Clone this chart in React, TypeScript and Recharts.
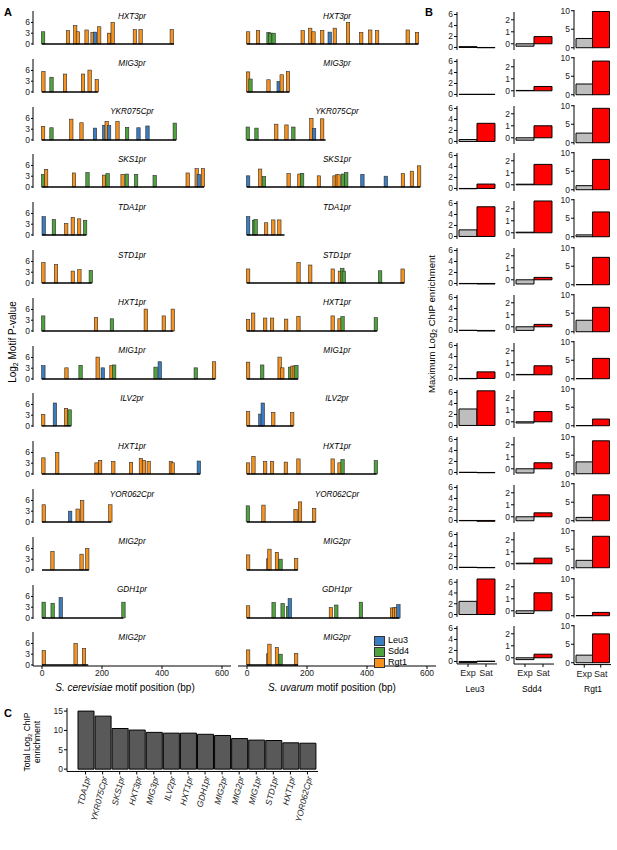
import React from 'react';
import { BarChart, Bar, XAxis, YAxis, Cell, ReferenceLine } from 'recharts';

const FONT = '"Liberation Sans", Arial, Helvetica, sans-serif';

// ---------- DATA ----------
const tfKeys = ['L', 'S', 'R'];
const tfNames = ['Leu3', 'Sdd4', 'Rgt1'];
const tfColors: Record<string, string> = { L: '#3A7DC1', S: '#4EA33F', R: '#F7921E' };

const promoterNames = [
  'HXT3pr', 'MIG3pr', 'YKR075Cpr', 'SKS1pr', 'TDA1pr', 'STD1pr', 'HXT1pr',
  'MIG1pr', 'ILV2pr', 'HXT1pr', 'YOR062Cpr', 'MIG2pr', 'GDH1pr', 'MIG2pr',
];

const cerLengths = [440, 186, 447, 540, 147, 166, 438, 577, 96, 527, 230, 156, 271, 154];
const uvaLengths = [571, 141, 262, 577, 125, 524, 433, 170, 154, 432, 228, 169, 508, 170];

type Motif = [number, number, string];

const cerMotifs: Motif[][] = [
  [[4, 3.4, 'S'], [87, 3.7, 'R'], [111, 5.1, 'R'], [120, 3.4, 'R'], [149, 3.9, 'R'], [169, 3.2, 'R'], [177, 3.3, 'L'], [191, 4.8, 'R'], [224, 3.0, 'R'], [236, 6.0, 'R'], [310, 4.0, 'R'], [329, 4.0, 'R'], [433, 4.0, 'R']],
  [[4, 5.7, 'R'], [31, 4.1, 'S'], [76, 5.0, 'R'], [136, 5.0, 'R'], [158, 6.1, 'R'], [182, 3.5, 'R']],
  [[4, 3.8, 'R'], [32, 3.4, 'S'], [98, 5.8, 'R'], [132, 4.8, 'R'], [177, 3.3, 'L'], [208, 4.1, 'L'], [216, 5.2, 'R'], [224, 4.0, 'L'], [252, 5.1, 'R'], [284, 3.5, 'S'], [322, 3.4, 'L'], [352, 3.9, 'L'], [443, 4.7, 'S']],
  [[4, 3.5, 'S'], [14, 4.9, 'R'], [107, 3.9, 'R'], [152, 4.0, 'S'], [207, 3.3, 'R'], [219, 3.7, 'S'], [269, 3.5, 'R'], [283, 3.6, 'S'], [314, 3.5, 'S'], [376, 3.2, 'S'], [486, 3.9, 'R'], [516, 5.1, 'R'], [523, 3.5, 'L'], [537, 5.1, 'R']],
  [[4, 5.1, 'L'], [38, 4.3, 'S'], [79, 3.2, 'R'], [101, 4.9, 'R'], [122, 4.5, 'R'], [142, 4.1, 'S']],
  [[4, 5.7, 'R'], [46, 5.1, 'R'], [102, 3.3, 'R'], [124, 3.7, 'R'], [162, 3.5, 'S']],
  [[4, 4.2, 'S'], [180, 3.7, 'R'], [233, 3.4, 'S'], [346, 6.1, 'R'], [406, 4.2, 'R'], [436, 6.1, 'R']],
  [[5, 3.7, 'L'], [82, 3.1, 'R'], [129, 3.8, 'S'], [186, 6.1, 'R'], [203, 3.1, 'L'], [232, 3.7, 'R'], [241, 3.9, 'S'], [379, 3.3, 'S'], [393, 4.8, 'L'], [513, 3.1, 'S'], [574, 4.8, 'R']],
  [[5, 3.2, 'R'], [44, 6.4, 'L'], [81, 4.9, 'R'], [93, 4.5, 'S']],
  [[5, 4.5, 'R'], [51, 6.0, 'R'], [182, 3.1, 'R'], [194, 3.8, 'R'], [238, 3.5, 'R'], [297, 3.2, 'R'], [330, 4.3, 'R'], [340, 3.8, 'R'], [356, 3.5, 'R'], [430, 3.5, 'R'], [436, 3.1, 'R'], [523, 3.6, 'L']],
  [[5, 4.8, 'R'], [93, 3.0, 'L'], [118, 3.6, 'R'], [133, 6.0, 'R'], [227, 4.8, 'R']],
  [[36, 5.2, 'R'], [133, 4.4, 'R'], [152, 6.0, 'R']],
  [[4, 4.4, 'S'], [34, 4.1, 'S'], [61, 5.7, 'L'], [270, 4.4, 'S']],
  [[5, 4.0, 'R'], [111, 6.0, 'R'], [139, 4.6, 'R']],
];

const uvaMotifs: Motif[][] = [
  [[4, 3.4, 'R'], [37, 3.7, 'R'], [72, 3.2, 'S'], [78, 3.0, 'S'], [89, 3.0, 'S'], [186, 3.7, 'R'], [211, 4.4, 'R'], [222, 3.4, 'R'], [251, 3.8, 'R'], [276, 3.3, 'L'], [293, 4.4, 'R'], [337, 6.0, 'R'], [381, 3.2, 'R'], [411, 3.9, 'R'], [434, 3.7, 'R'], [536, 3.9, 'R'], [567, 3.2, 'R']],
  [[4, 5.6, 'R'], [12, 3.6, 'S'], [72, 3.4, 'R'], [106, 2.9, 'L'], [116, 4.8, 'R'], [137, 5.7, 'R']],
  [[3, 3.6, 'S'], [32, 3.3, 'S'], [98, 4.4, 'R'], [132, 4.2, 'R'], [155, 3.6, 'S'], [215, 6.0, 'R'], [224, 3.2, 'L'], [251, 5.9, 'R']],
  [[4, 3.1, 'L'], [44, 5.0, 'R'], [57, 2.9, 'S'], [139, 3.7, 'R'], [175, 3.6, 'R'], [184, 3.8, 'S'], [240, 3.1, 'R'], [292, 3.1, 'R'], [300, 3.4, 'R'], [306, 3.4, 'R'], [320, 3.6, 'S'], [331, 4.0, 'S'], [385, 3.5, 'L'], [463, 3.0, 'L'], [520, 3.7, 'R'], [550, 4.4, 'R'], [574, 5.9, 'R']],
  [[4, 5.1, 'L'], [24, 4.1, 'S'], [29, 4.3, 'S'], [64, 3.4, 'R'], [88, 4.2, 'R'], [108, 4.2, 'R']],
  [[4, 3.9, 'R'], [172, 5.7, 'R'], [211, 5.0, 'R'], [286, 3.9, 'R'], [310, 3.3, 'R'], [318, 4.1, 'S'], [323, 3.3, 'S'], [444, 3.4, 'S'], [519, 3.9, 'R']],
  [[4, 3.2, 'R'], [21, 5.0, 'R'], [61, 3.6, 'R'], [84, 3.6, 'R'], [131, 3.3, 'R'], [172, 4.1, 'R'], [286, 4.2, 'R'], [309, 3.4, 'R'], [319, 4.0, 'S'], [430, 3.7, 'S']],
  [[4, 4.7, 'R'], [51, 3.9, 'S'], [109, 6.1, 'R'], [118, 3.1, 'R'], [144, 3.3, 'S'], [152, 3.6, 'R'], [159, 3.6, 'R'], [165, 3.8, 'S']],
  [[4, 4.0, 'R'], [45, 3.3, 'L'], [53, 6.4, 'L'], [88, 3.8, 'R'], [151, 3.7, 'R']],
  [[4, 3.1, 'R'], [22, 4.9, 'R'], [61, 3.5, 'R'], [84, 3.5, 'R'], [130, 3.3, 'R'], [172, 4.2, 'R'], [286, 4.2, 'R'], [309, 3.1, 'R'], [319, 4.0, 'S'], [430, 3.7, 'S']],
  [[2, 4.5, 'S'], [54, 4.7, 'R'], [161, 3.5, 'R'], [176, 5.6, 'R'], [223, 3.8, 'R']],
  [[4, 4.2, 'R'], [71, 3.1, 'R'], [75, 5.8, 'R'], [100, 4.9, 'R'], [112, 3.0, 'S'], [164, 3.2, 'R']],
  [[4, 3.4, 'R'], [89, 4.3, 'S'], [119, 4.0, 'S'], [137, 3.2, 'S'], [143, 5.4, 'L'], [280, 2.9, 'R'], [298, 3.6, 'S'], [380, 4.4, 'S'], [484, 2.8, 'R'], [491, 2.8, 'R'], [497, 2.9, 'R'], [505, 3.7, 'L']],
  [[4, 4.2, 'R'], [71, 3.1, 'R'], [75, 5.8, 'R'], [100, 4.9, 'R'], [112, 3.0, 'S'], [164, 3.2, 'R']],
];

const motifTicksY = [0, 3, 6];
const motifTicksX = [0, 200, 400, 600];

const conditions = ['Exp', 'Sat'];
const leu3Exp = [0.15, 0.03, 0.35, -0.05, 1.2, -0.05, 0.03, -0.05, 3.0, 0.03, -0.05, 0.03, 2.45, -0.2];
const leu3Sat = [-0.05, 0.03, 3.3, 0.8, 5.4, -0.1, -0.1, 1.2, 6.3, -0.05, -0.15, -0.05, 6.6, 0.05];
const sdd4Exp = [-0.2, 0.03, -0.2, 0.05, 0.05, -0.35, -0.3, 0.03, -0.1, -0.35, -0.33, 0.05, -0.22, -0.15];
const sdd4Sat = [0.6, 0.36, 1.0, 1.7, 2.65, 0.2, 0.2, 0.75, 0.85, 0.5, 0.33, 0.47, 1.5, 0.3];
const rgt1Exp = [2.5, 2.9, 2.6, 1.1, 0.5, 0.05, 3.1, 0.05, 0.05, 3.2, 0.9, 2.0, 0.05, 2.05];
const rgt1Sat = [9.8, 9.1, 9.3, 8.2, 6.7, 7.4, 6.6, 5.5, 1.8, 8.9, 7.0, 8.5, 0.9, 7.8];
const leu3Ticks = [0, 2, 4, 6];
const sdd4Ticks = [0, 1, 2];
const rgt1Ticks = [0, 5, 10];

const totalLabels = ['TDA1pr', 'YKR075Cpr', 'SKS1pr', 'HXT3pr', 'MIG3pr', 'ILV2pr', 'HXT1pr', 'GDH1pr', 'MIG2pr', 'MIG2pr', 'MIG1pr', 'STD1pr', 'HXT1pr', 'YOR062Cpr'];
const totalValues = [15.0, 13.7, 10.5, 10.1, 9.5, 9.3, 9.3, 9.0, 8.7, 7.9, 7.5, 7.4, 6.8, 6.7];
const totalTicks = [0, 5, 10, 15];

// ---------- LAYOUT ----------
const A_BASE0 = 44;
const A_STEP = 47.8;
const A_YDOM: [number, number] = [-0.3, 9.2];
const A_PLOT_H = 34;
const A_M = 6;
const B_BASE0 = 47;
const B_STEP = 47.3;
const B_M = 6;

const tickStyle = { fontSize: 8.5, fill: '#222', fontFamily: FONT };
const axisLine = { stroke: '#000', strokeWidth: 1 };

// Motif bar: keep the library's bar centre, draw it with a constant thin width.
function MotifBar(props: any) {
  const { x, width, y, height, payload } = props;
  if (height == null || !isFinite(height)) return null;
  const cx = x + width / 2;
  const w = 3.4;
  return <rect x={cx - w / 2} y={y} width={w} height={height} fill={tfColors[payload.tf]} stroke="#2a2a2a" strokeWidth={0.6} />;
}

function MotifPanel({ motifs, len, side, row }: { motifs: Motif[]; len: number; side: 'left' | 'right'; row: number }) {
  const base = A_BASE0 + row * A_STEP;
  const isLeft = side === 'left';
  const showX = row === promoterNames.length - 1;
  const data = motifs.map(([pos, val, tf]) => ({ pos, val, tf }));
  const zeroFromTop = (A_YDOM[1] / (A_YDOM[1] - A_YDOM[0])) * A_PLOT_H;
  const top = base - zeroFromTop - A_M;
  const xH = showX ? 18 : 0;
  const height = A_M + A_PLOT_H + xH + A_M;
  const left = isLeft ? 0 : 238;
  const width = isLeft ? 240 : 200;
  return (
    <div style={{ position: 'absolute', left, top }}>
      <BarChart width={width} height={height} data={data} margin={{ top: A_M, right: isLeft ? 9 : 2, bottom: A_M, left: 0 }} barGap={0}>
        <XAxis type="number" dataKey="pos" domain={[-30, 630]} ticks={motifTicksX} hide={!showX} height={18}
          axisLine={axisLine} tickLine={{ stroke: '#000' }} tickSize={3} tickMargin={1} tick={tickStyle} interval={0} />
        <YAxis type="number" domain={A_YDOM} ticks={motifTicksY} hide={!isLeft} width={33}
          axisLine={axisLine} tickLine={{ stroke: '#000' }} tickSize={2} tickMargin={1} tick={tickStyle} interval={0} />
        <Bar dataKey="val" barSize={3} isAnimationActive={false} shape={<MotifBar />}>
          {data.map((d, i) => (
            <Cell key={i} fill={tfColors[d.tf]} />
          ))}
        </Bar>
        <ReferenceLine segment={[{ x: 0, y: 0 }, { x: len, y: 0 }]} stroke="#000" strokeWidth={1.4} ifOverflow="visible" />
      </BarChart>
    </div>
  );
}

const bCols = [
  { name: 'Leu3', exp: leu3Exp, sat: leu3Sat, ticks: leu3Ticks, domain: [-0.45, 6.45] as [number, number], ppu: 5.5, zeroOff: 0, axisX: 457, plotW: 40, pad: 2 },
  { name: 'Sdd4', exp: sdd4Exp, sat: sdd4Sat, ticks: sdd4Ticks, domain: [-0.52, 2.65] as [number, number], ppu: 12, zeroOff: -3.7, axisX: 514, plotW: 40, pad: 2 },
  { name: 'Rgt1', exp: rgt1Exp, sat: rgt1Sat, ticks: rgt1Ticks, domain: [-0.5, 10.2] as [number, number], ppu: 3.7, zeroOff: 0.8, axisX: 574, plotW: 37, pad: 2 },
];

function EnrichPanel({ col, row }: { col: number; row: number }) {
  const cfg = bCols[col];
  const base = B_BASE0 + row * B_STEP;
  const data = [
    { cond: conditions[0], v: cfg.exp[row] },
    { cond: conditions[1], v: cfg.sat[row] },
  ];
  const showX = row === promoterNames.length - 1;
  const plotTop = base + cfg.zeroOff - cfg.domain[1] * cfg.ppu;
  const plotH = (cfg.domain[1] - cfg.domain[0]) * cfg.ppu;
  const yW = 22;
  const xH = showX ? 16 : 0;
  return (
    <div style={{ position: 'absolute', left: cfg.axisX - yW, top: plotTop - B_M }}>
      <BarChart width={yW + cfg.plotW + 1} height={B_M + plotH + xH + B_M} data={data}
        margin={{ top: B_M, right: 1, bottom: B_M, left: 0 }} barCategoryGap={0} barGap={0}>
        <XAxis dataKey="cond" hide={!showX} height={16} padding={{ left: cfg.pad, right: cfg.pad }}
          axisLine={axisLine} tickLine={{ stroke: '#000' }} tickSize={3} tickMargin={3} tick={{ ...tickStyle, fontSize: 9 }} interval={0} />
        <YAxis type="number" domain={cfg.domain} ticks={cfg.ticks} width={yW}
          axisLine={axisLine} tickLine={{ stroke: '#000' }} tickSize={3} tickMargin={1} tick={tickStyle} interval={0} />
        <Bar dataKey="v" isAnimationActive={false} stroke="#000" strokeWidth={1}>
          <Cell fill="#BEBEBE" />
          <Cell fill="#FF0000" />
        </Bar>
      </BarChart>
    </div>
  );
}

function RotTick(props: any) {
  const { x, y, payload } = props;
  const tx = x + 2;
  const ty = y + 1;
  return (
    <text x={tx} y={ty} transform={`rotate(-76 ${tx} ${ty})`} textAnchor="end" dominantBaseline="central"
      fontSize={8.6} fontStyle="italic" fill="#222" fontFamily={FONT}>
      {totalLabels[payload.value]}
    </text>
  );
}

function TotalPanel() {
  const data = totalValues.map((v, i) => ({ id: i, v }));
  const dom: [number, number] = [-0.6, 15.8];
  const ppu = 3.87;
  const zeroY = 769;
  const plotTop = zeroY - dom[1] * ppu;
  const plotH = (dom[1] - dom[0]) * ppu;
  const yW = 30;
  const m = 6;
  return (
    <div style={{ position: 'absolute', left: 67 - yW, top: plotTop - m }}>
      <BarChart width={yW + 251 + 2} height={m + plotH + 62} data={data} margin={{ top: m, right: 2, bottom: 0, left: 0 }}>
        <XAxis dataKey="id" type="category" padding={{ left: 10, right: 2 }} height={62} interval={0}
          axisLine={axisLine} tickLine={{ stroke: '#000' }} tickSize={3} tickMargin={1} tick={<RotTick />} />
        <YAxis type="number" domain={dom} ticks={totalTicks} width={yW} interval={0}
          axisLine={axisLine} tickLine={{ stroke: '#000' }} tickSize={3} tickMargin={1} tick={tickStyle} />
        <Bar dataKey="v" barSize={16} fill="#595959" stroke="#000" strokeWidth={1} isAnimationActive={false} />
      </BarChart>
    </div>
  );
}

function Abs({ x, y, children, style }: { x: number; y: number; children: React.ReactNode; style?: React.CSSProperties }) {
  return (
    <div style={{ position: 'absolute', left: x, top: y, transform: 'translate(-50%,-50%)', whiteSpace: 'nowrap', lineHeight: 1, ...style }}>
      {children}
    </div>
  );
}

function VAbs({ x, y, children, style }: { x: number; y: number; children: React.ReactNode; style?: React.CSSProperties }) {
  return (
    <div style={{ position: 'absolute', left: x, top: y, transform: 'translate(-50%,-50%) rotate(-90deg)', whiteSpace: 'nowrap', lineHeight: 1.15, textAlign: 'center', ...style }}>
      {children}
    </div>
  );
}

const sub: React.CSSProperties = { fontSize: '0.7em', position: 'relative', top: '0.3em' };

export default function App() {
  return (
    <div style={{ position: 'absolute', left: 0, top: 0, width: 617, height: 850, background: '#fff', fontFamily: FONT, color: '#000' }}>
      {promoterNames.map((name, i) => (
        <React.Fragment key={i}>
          <MotifPanel motifs={cerMotifs[i]} len={cerLengths[i]} side="left" row={i} />
          <MotifPanel motifs={uvaMotifs[i]} len={uvaLengths[i]} side="right" row={i} />
          <Abs x={132} y={A_BASE0 + i * A_STEP - 27.5} style={{ fontSize: 8.2, fontStyle: 'italic' }}>{name}</Abs>
          <Abs x={337} y={A_BASE0 + i * A_STEP - 27.5} style={{ fontSize: 8.2, fontStyle: 'italic' }}>{name}</Abs>
          {bCols.map((_, c) => (
            <EnrichPanel key={c} col={c} row={i} />
          ))}
        </React.Fragment>
      ))}

      {/* panel letters */}
      <Abs x={8} y={12} style={{ fontSize: 11, fontWeight: 'bold' }}>A</Abs>
      <Abs x={429} y={12} style={{ fontSize: 11, fontWeight: 'bold' }}>B</Abs>
      <Abs x={8} y={713} style={{ fontSize: 11, fontWeight: 'bold' }}>C</Abs>

      {/* axis titles A */}
      <VAbs x={13} y={342} style={{ fontSize: 10 }}>
        Log<span style={sub}>2</span> Motif P-value
      </VAbs>
      <Abs x={125} y={688} style={{ fontSize: 10 }}>
        <i>S. cerevisiae</i> motif position (bp)
      </Abs>
      <Abs x={332} y={688} style={{ fontSize: 10 }}>
        <i>S. uvarum</i> motif position (bp)
      </Abs>

      {/* legend */}
      <div style={{ position: 'absolute', left: 374, top: 635 }}>
        {tfKeys.map((k, i) => (
          <div key={k} style={{ display: 'flex', alignItems: 'center', height: 11 }}>
            <div style={{ width: 11, height: 10, background: tfColors[k], border: '0.5px solid #333', boxSizing: 'border-box' }} />
            <span style={{ fontSize: 9, marginLeft: 3, lineHeight: 1 }}>{tfNames[i]}</span>
          </div>
        ))}
      </div>

      {/* axis titles B */}
      <VAbs x={432} y={324} style={{ fontSize: 9.6 }}>
        Maximum Log<span style={sub}>2</span> ChIP enrichment
      </VAbs>
      {bCols.map((c, i) => (
        <Abs key={i} x={[475, 532, 593][i]} y={689} style={{ fontSize: 8.5 }}>{c.name}</Abs>
      ))}

      {/* panel C */}
      <TotalPanel />
      <VAbs x={33} y={742} style={{ fontSize: 8.5 }}>
        Total Log<span style={sub}>2</span> ChIP<br />enrichment
      </VAbs>
    </div>
  );
}
